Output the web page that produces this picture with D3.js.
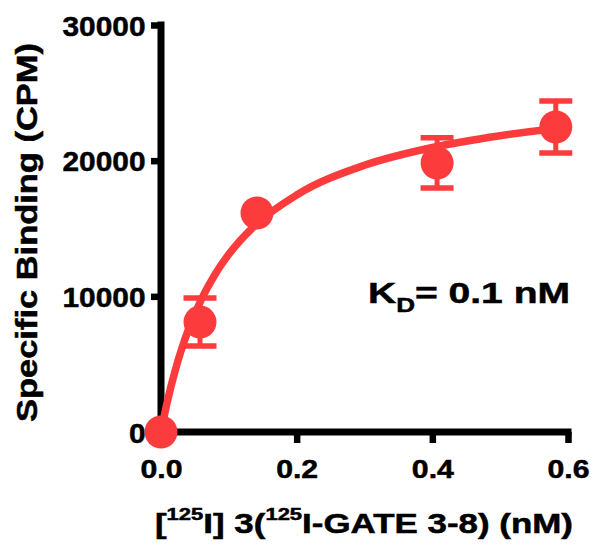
<!DOCTYPE html>
<html>
<head>
<meta charset="utf-8">
<script src="https://cdn.jsdelivr.net/npm/d3@7"></script>
<style>
  html, body { margin: 0; padding: 0; background: #ffffff; }
  svg { display: block; }
  text { font-family: "Liberation Sans", Arial, Helvetica, sans-serif; font-weight: bold; fill: #000; stroke: #000; stroke-width: 0.5px; }
</style>
</head>
<body>
<div id="chart"></div>
<script>
// ---- data ----
const concentrations = [0, 0.0575, 0.1415, 0.407, 0.582];      // nM
const bindingMeans   = [0, 8100, 16140, 19830, 22480];         // CPM
const bindingErrors  = [0, 1770, 0, 1850, 1920];               // CPM (SEM)
// fitted one-site curve
const curveX = [0, 0.01, 0.02, 0.03, 0.04, 0.06, 0.08, 0.10, 0.14, 0.20, 0.30, 0.40, 0.50, 0.582];
const curveY = [0, 2380, 4370, 6050, 7490, 9830, 11650, 13100, 15290, 17470, 19660, 20970, 21840, 22370];
const xTicks = [0, 0.2, 0.4, 0.6];
const xTickLabels = ["0.0", "0.2", "0.4", "0.6"];
const yTicks = [0, 10000, 20000, 30000];
const yTickLabels = ["0", "10000", "20000", "30000"];
const kdLabel = { main: "K", sub: "D", rest: "= 0.1 nM" };

const W = 601, H = 555;
const red = "#fc3c3c";

const svg = d3.select("#chart").append("svg")
  .attr("width", W).attr("height", H);
svg.append("rect").attr("width", W).attr("height", H).attr("fill", "#fff");

const x = d3.scaleLinear().domain([0, 0.6]).range([161, 568]);
const y = d3.scaleLinear().domain([0, 30000]).range([432, 25]);

// ---- axes ----
const yAxis = d3.axisLeft(y).tickValues(yTicks).tickSize(10).tickSizeOuter(0)
  .tickFormat((d, i) => yTickLabels[i]);
const gy = svg.append("g").attr("transform", `translate(${x(0)},0)`).call(yAxis);
gy.select(".domain").attr("stroke", "#000").attr("stroke-width", 7)
  .attr("stroke-linecap", "square")
  .attr("d", `M0,${y(30000)}V${y(0)}`);
gy.selectAll(".tick line").attr("stroke", "#000").attr("stroke-width", 6.5);
gy.selectAll(".tick text")
  .attr("x", -15.5).attr("dy", 0).attr("y", 10)
  .attr("font-size", 28)
  .attr("font-family", "Liberation Sans, Arial, sans-serif")
  .attr("font-weight", "bold")
  .attr("text-anchor", "end")
  .attr("textLength", (d, i) => yTickLabels[i].length * 16.6)
  .attr("lengthAdjust", "spacingAndGlyphs");

const xAxis = d3.axisBottom(x).tickValues(xTicks).tickSize(11).tickSizeOuter(0)
  .tickFormat((d, i) => xTickLabels[i]);
const gx = svg.append("g").attr("transform", `translate(0,${y(0)})`).call(xAxis);
gx.select(".domain").attr("stroke", "#000").attr("stroke-width", 7)
  .attr("stroke-linecap", "square")
  .attr("d", `M${x(0)},0H${x(0.6)}`);
gx.selectAll(".tick line").attr("stroke", "#000").attr("stroke-width", 6.5);
gx.selectAll(".tick text")
  .attr("y", 46).attr("dy", 0)
  .attr("font-size", 26)
  .attr("font-family", "Liberation Sans, Arial, sans-serif")
  .attr("font-weight", "bold")
  .attr("textLength", 42)
  .attr("lengthAdjust", "spacingAndGlyphs");

// ---- fitted curve ----
const curveData = curveX.map((cx, i) => [cx, curveY[i]]);
svg.append("path")
  .datum(curveData)
  .attr("fill", "none")
  .attr("stroke", red)
  .attr("stroke-width", 7.5)
  .attr("stroke-linecap", "round")
  .attr("d", d3.line().x(d => x(d[0])).y(d => y(d[1])).curve(d3.curveMonotoneX));

// ---- error bars ----
const pts = concentrations.map((c, i) => ({ c, m: bindingMeans[i], e: bindingErrors[i] }));
const eb = svg.append("g").selectAll("g").data(pts.filter(p => p.e > 0)).join("g");
eb.append("line")
  .attr("x1", d => x(d.c)).attr("x2", d => x(d.c))
  .attr("y1", d => y(d.m + d.e)).attr("y2", d => y(d.m - d.e))
  .attr("stroke", red).attr("stroke-width", 5);
[1, -1].forEach(s => {
  eb.append("line")
    .attr("x1", d => x(d.c) - 16.5).attr("x2", d => x(d.c) + 16.5)
    .attr("y1", d => y(d.m + s * d.e)).attr("y2", d => y(d.m + s * d.e))
    .attr("stroke", red).attr("stroke-width", 5.5);
});

// ---- markers ----
svg.append("g").selectAll("circle").data(pts).join("circle")
  .attr("cx", d => x(d.c)).attr("cy", d => y(d.m))
  .attr("r", 16.5).attr("fill", red);

// ---- K_D annotation ----
const kd = svg.append("text").attr("x", 368).attr("y", 303).attr("font-size", 30)
  .attr("textLength", 202).attr("lengthAdjust", "spacingAndGlyphs");
kd.append("tspan").text(kdLabel.main);
kd.append("tspan").attr("font-size", 20).attr("dy", 9).text(kdLabel.sub);
kd.append("tspan").attr("dy", -9).text(kdLabel.rest);

// ---- axis titles ----
svg.append("text")
  .attr("transform", "translate(37,232.5) rotate(-90)")
  .attr("text-anchor", "middle")
  .attr("font-size", 29)
  .attr("textLength", 379).attr("lengthAdjust", "spacingAndGlyphs")
  .text("Specific Binding (CPM)");

const xt = svg.append("text").attr("x", 155).attr("y", 533).attr("font-size", 27)
  .attr("textLength", 418).attr("lengthAdjust", "spacingAndGlyphs");
xt.append("tspan").text("[");
xt.append("tspan").attr("font-size", 17).attr("dy", -13).text("125");
xt.append("tspan").attr("dy", 13).text("I] 3(");
xt.append("tspan").attr("font-size", 17).attr("dy", -13).text("125");
xt.append("tspan").attr("dy", 13).text("I-GATE 3-8) (nM)");
</script>
</body>
</html>
